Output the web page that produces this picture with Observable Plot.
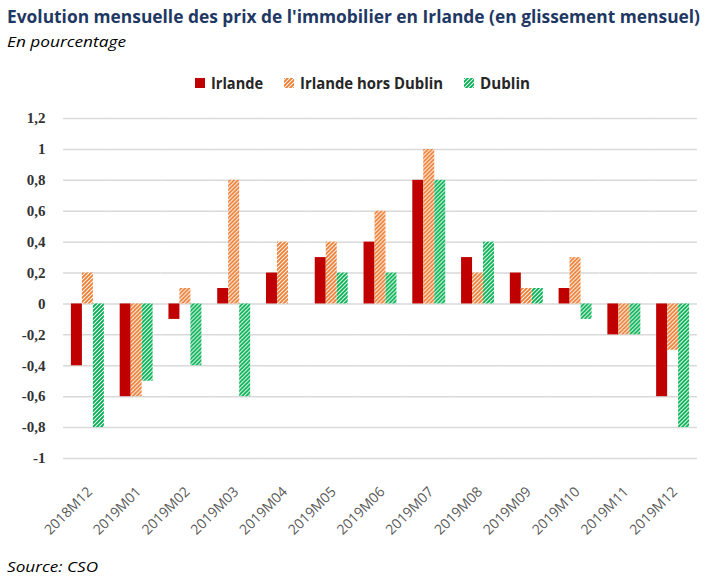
<!DOCTYPE html>
<html>
<head>
<meta charset="utf-8">
<script src="https://cdn.jsdelivr.net/npm/d3@7"></script>
<script src="https://cdn.jsdelivr.net/npm/@observablehq/plot@0.6"></script>
<style>
  html, body { margin: 0; padding: 0; background: #fff; }
  #wrap { position: relative; width: 722px; height: 580px; overflow: hidden; }
  .fit { display: inline-block; transform-origin: 0 50%; white-space: nowrap; }
  .title { position: absolute; left: 7px; top: 4px; font-family: "Open Sans", sans-serif; font-weight: bold; font-size: 18px; color: #1F3864; white-space: nowrap; }
  .subtitle { position: absolute; left: 7px; top: 31px; font-family: "Open Sans", sans-serif; font-style: italic; font-size: 15px; color: #000; white-space: nowrap; }
  .legend { position: absolute; top: 72px; left: 0; width: 722px; height: 22px; }
  .legend .item { position: absolute; top: 0; display: flex; align-items: center; font-family: "Open Sans", sans-serif; font-weight: bold; font-size: 16px; color: #262626; white-space: nowrap; height: 22px; }
  .legend svg { margin-right: 6px; flex: none; }
  .source { position: absolute; left: 7px; top: 556px; font-family: "Open Sans", sans-serif; font-style: italic; font-size: 15px; color: #000; white-space: nowrap; }
  #chart { position: absolute; left: 0; top: 100px; }
</style>
</head>
<body>
<svg width="0" height="0" style="position:absolute">
  <defs>
    <pattern id="hatchOrange" patternUnits="userSpaceOnUse" width="4" height="4">
      <rect width="4" height="4" fill="#fff"/>
      <path d="M-1,1 l2,-2 M0,4 l4,-4 M3,5 l2,-2" stroke="#ED7D31" stroke-width="1.9"/>
    </pattern>
    <pattern id="hatchGreen" patternUnits="userSpaceOnUse" width="4" height="4">
      <rect width="4" height="4" fill="#fff"/>
      <path d="M-1,1 l2,-2 M0,4 l4,-4 M3,5 l2,-2" stroke="#00B050" stroke-width="1.9"/>
    </pattern>
  </defs>
</svg>
<div id="wrap">
  <div class="title"><span class="fit" data-w="693">Evolution mensuelle des prix de l'immobilier en Irlande (en glissement mensuel)</span></div>
  <div class="subtitle"><span class="fit" data-w="119">En pourcentage</span></div>
  <div class="legend" id="legend"></div>
  <div id="chart"></div>
  <div class="source"><span class="fit" data-w="91">Source: CSO</span></div>
</div>
<script>
const months = ["2018M12","2019M01","2019M02","2019M03","2019M04","2019M05","2019M06","2019M07","2019M08","2019M09","2019M10","2019M11","2019M12"];
const series = ["Irlande", "Irlande hors Dublin", "Dublin"];
const irlande     = [-0.4, -0.6, -0.1, 0.1, 0.2, 0.3, 0.4, 0.8, 0.3, 0.2, 0.1, -0.2, -0.6];
const horsDublin  = [ 0.2, -0.6,  0.1, 0.8, 0.4, 0.4, 0.6, 1.0, 0.2, 0.1, 0.3, -0.2, -0.3];
const dublin      = [-0.8, -0.5, -0.4, -0.6, 0.0, 0.2, 0.2, 0.8, 0.4, 0.1, -0.1, -0.2, -0.8];
const yTicks = [-1, -0.8, -0.6, -0.4, -0.2, 0, 0.2, 0.4, 0.6, 0.8, 1, 1.2];
const fills = ["#C00000", "url(#hatchOrange)", "url(#hatchGreen)"];

const values = [irlande, horsDublin, dublin];
const data = [];
months.forEach((m, i) => series.forEach((s, j) => data.push({month: m, series: s, value: values[j][i]})));

const chart = Plot.plot({
  width: 722,
  height: 440,
  marginLeft: 63,
  marginRight: 25,
  marginTop: 18,
  marginBottom: 82,
  fx: {domain: months, padding: 0, round: false, label: null},
  x: {domain: series, paddingInner: 0, paddingOuter: 0.72, round: false, axis: null},
  y: {domain: [-1, 1.2], label: null},
  color: {domain: series, range: fills},
  style: {background: "transparent"},
  marks: [
    Plot.gridY(yTicks, {stroke: "#d9d9d9", strokeOpacity: 1, strokeWidth: 1.5}),
    Plot.axisY({ticks: yTicks, tickSize: 0, tickPadding: 18, label: null,
      tickFormat: d => String(d).replace(".", ","),
      fontFamily: "Liberation Serif, serif", fontWeight: "bold", fontSize: 15, fill: "#333"}),
    Plot.axisFx({anchor: "bottom", tickRotate: -45, tickSize: 0, tickPadding: 31, dx: 2, label: null,
      fontFamily: "Open Sans, sans-serif", fontSize: 14, fill: "#595959"}),
    Plot.barY(data, {fx: "month", x: "series", y: "value", fill: "series"})
  ]
});
document.getElementById("chart").appendChild(chart);

const legendPos = [195, 284, 464];
const legendW = [52, 143, 50];
const legend = document.getElementById("legend");
series.forEach((s, j) => {
  const item = document.createElement("div");
  item.className = "item";
  item.style.left = legendPos[j] + "px";
  item.innerHTML = `<svg width="10" height="10"><rect width="10" height="10" fill="${fills[j]}"/></svg><span class="fit" data-w="${legendW[j]}">${s}</span>`;
  legend.appendChild(item);
});

// fit texts horizontally to the widths measured in the reference
document.querySelectorAll(".fit").forEach(el => {
  const w = el.getBoundingClientRect().width;
  const target = +el.dataset.w;
  if (w > 0) el.style.transform = `scaleX(${target / w})`;
});
</script>
</body>
</html>
